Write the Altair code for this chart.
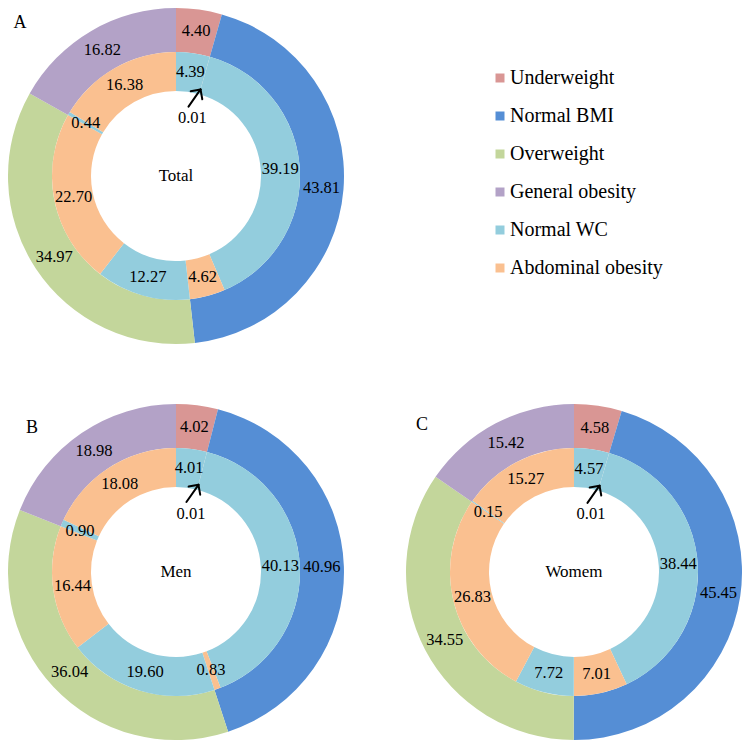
import math
import altair as alt
import pandas as pd

# ---------------- data ----------------
categories = ["Underweight", "Normal BMI", "Overweight", "General obesity",
               "Normal WC", "Abdominal obesity"]
colors = ["#D99694", "#558ED5", "#C3D69B", "#B3A2C7", "#93CDDD", "#FAC090"]

bmi_groups = categories[:4]
wc_groups = ["Normal WC", "Abdominal obesity"] * 4

total_outer = [4.40, 43.81, 34.97, 16.82]
total_inner = [4.39, 0.01, 39.19, 4.62, 12.27, 22.70, 0.44, 16.38]
men_outer = [4.02, 40.96, 36.04, 18.98]
men_inner = [4.01, 0.01, 40.13, 0.83, 19.60, 16.44, 0.90, 18.08]
women_outer = [4.58, 45.45, 34.55, 15.42]
women_inner = [4.57, 0.01, 38.44, 7.01, 7.72, 26.83, 0.15, 15.27]

# ---------------- style ----------------
FONT = "Liberation Serif"
SIZE = 336
HALF = SIZE / 2
R_OUT, R_MID, R_IN = 168, 124, 85
SMALL = 0.1  # segments below this get an arrow label

color_scale = alt.Scale(domain=categories, range=colors)
xs = alt.Scale(domain=[-HALF, HALF], nice=False, zero=False)
ys = alt.Scale(domain=[-HALF, HALF], nice=False, zero=False)


def donut(letter, title, outer, inner, letter_pos):
    odf = pd.DataFrame({"cat": bmi_groups, "value": outer,
                        "idx": list(range(len(outer))),
                        "label": [f"{v:.2f}" for v in outer]})
    idf = pd.DataFrame({"cat": wc_groups, "value": inner,
                        "idx": list(range(len(inner))),
                        "label": [f"{v:.2f}" if v >= SMALL else "" for v in inner],
                        "small": [f"{v:.2f}" if v < SMALL else "" for v in inner]})

    theta = alt.Theta("value:Q", stack=True)
    order = alt.Order("idx:Q")

    outer_arc = alt.Chart(odf).mark_arc(radius=R_OUT, radius2=R_MID).encode(
        theta=theta, order=order,
        color=alt.Color("cat:N", scale=color_scale, legend=None))
    inner_arc = alt.Chart(idf).mark_arc(radius=R_MID, radius2=R_IN).encode(
        theta=theta, order=order,
        color=alt.Color("cat:N", scale=color_scale, legend=None))
    outer_txt = alt.Chart(odf).mark_text(
        radius=(R_OUT + R_MID) / 2, font=FONT, fontSize=16.5, color="black",
        baseline="middle", align="center").encode(theta=theta, order=order, text="label:N")
    inner_txt = alt.Chart(idf).mark_text(
        radius=(R_MID + R_IN) / 2, font=FONT, fontSize=16.5, color="black",
        baseline="middle", align="center").encode(theta=theta, order=order, text="label:N")
    small_txt = alt.Chart(idf).mark_text(
        radius=60, font=FONT, fontSize=16.5, color="black",
        baseline="middle", align="center").encode(theta=theta, order=order, text="small:N")

    # arrow pointing at the tiny segment (angle derived from data)
    total = sum(inner)
    rows = []
    cum = 0.0
    for v in inner:
        if v < SMALL:
            ang = (cum + v / 2) / total * 2 * math.pi
            hx, hy = 90 * math.sin(ang), 90 * math.cos(ang)
            d = math.radians(35)
            dx, dy = math.sin(d), math.cos(d)
            tx, ty = hx - 21 * dx, hy - 21 * dy
            rows.append({"x": tx, "y": ty, "x2": hx, "y2": hy})
            for s in (-1, 1):
                b = d + math.pi + s * math.radians(45)
                rows.append({"x": hx, "y": hy,
                             "x2": hx + 10 * math.sin(b), "y2": hy + 10 * math.cos(b)})
        cum += v
    adf = pd.DataFrame(rows)
    arrow = alt.Chart(adf).mark_rule(color="black", strokeWidth=2, strokeCap="round").encode(
        x=alt.X("x:Q", scale=xs, axis=None), y=alt.Y("y:Q", scale=ys, axis=None),
        x2="x2:Q", y2="y2:Q")

    tdf = pd.DataFrame({"x": [0, letter_pos[0]], "y": [0, letter_pos[1]],
                        "t": [title, letter], "fs": [17, 18]})
    texts = alt.Chart(tdf).mark_text(font=FONT, color="black", baseline="middle",
                                      align="center").encode(
        x=alt.X("x:Q", scale=xs, axis=None), y=alt.Y("y:Q", scale=ys, axis=None),
        text="t:N", size=alt.Size("fs:Q", scale=None, legend=None))

    return alt.layer(outer_arc, inner_arc, outer_txt, inner_txt, small_txt,
                     arrow, texts).properties(width=SIZE, height=SIZE)


chart_a = donut("A", "Total", total_outer, total_inner, (-156, 153))
chart_b = donut("B", "Men", men_outer, men_inner, (-144, 144))
chart_c = donut("C", "Womem", women_outer, women_inner, (-152, 147))

ldf = pd.DataFrame({"cat": categories})
ly = alt.Y("cat:N", scale=alt.Scale(type="point", domain=categories, range=[70, 260], padding=0),
           axis=None, sort=categories)
legend_sq = alt.Chart(ldf).mark_square(size=81, opacity=1).encode(
    x=alt.value(94), y=ly, color=alt.Color("cat:N", scale=color_scale, legend=None))
legend_tx = alt.Chart(ldf).mark_text(font=FONT, fontSize=20, color="black", align="left",
                                     baseline="middle").encode(
    x=alt.value(104), y=ly, text="cat:N")
legend = alt.layer(legend_sq, legend_tx).properties(width=300, height=SIZE)

chart = alt.concat(chart_a, legend, chart_b, chart_c, columns=2,
                   spacing={"row": 60, "column": 62}, bounds="flush").properties(
    padding=0).configure_view(stroke=None)

chart.save("out.html", embed_options={"renderer": "svg", "actions": False})
